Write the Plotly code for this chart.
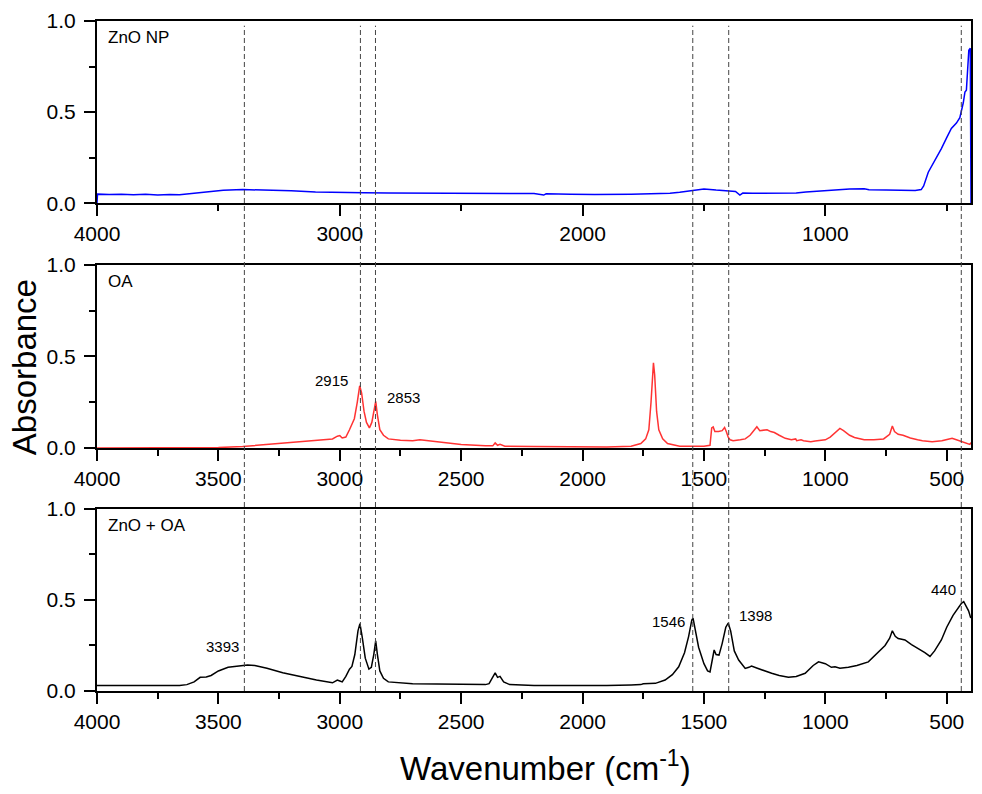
import plotly.graph_objects as go

# ---------------------------------------------------------
# 1. Data
# ---------------------------------------------------------
zno_wn = [4000, 3998, 3950, 3900, 3850, 3800, 3750, 3700, 3660, 3620, 3550, 3480,
          3400, 3300, 3200, 3100, 3000, 2900, 2800, 2600, 2400, 2300, 2200, 2160,
          2150, 2050, 1950, 1800, 1700, 1640, 1600, 1560, 1500, 1450, 1400, 1370,
          1352, 1340, 1300, 1200, 1120, 1080, 1000, 900, 840, 820, 750, 680, 630,
          605, 595, 576, 550, 522, 500, 481, 460, 446, 432, 425, 419, 414, 409,
          403, 400]
zno_abs = [0.0, 0.05, 0.048, 0.05, 0.046, 0.049, 0.045, 0.048, 0.046, 0.052, 0.062, 0.071,
           0.075, 0.073, 0.068, 0.062, 0.058, 0.057, 0.056, 0.056, 0.054, 0.055, 0.053, 0.045,
           0.052, 0.05, 0.048, 0.05, 0.052, 0.055, 0.06, 0.068, 0.078, 0.072, 0.07, 0.065,
           0.045, 0.056, 0.055, 0.055, 0.056, 0.062, 0.07, 0.078, 0.08, 0.074, 0.072, 0.072, 0.07,
           0.075, 0.095, 0.17, 0.23, 0.30, 0.36, 0.41, 0.44, 0.47, 0.55, 0.61, 0.62, 0.72, 0.84,
           0.85, 0.0]

oa_wn = [4000, 3700, 3500, 3400, 3300, 3200, 3100, 3030, 3010, 3000, 2990, 2975,
         2960, 2950, 2940, 2928, 2918, 2910, 2900, 2890, 2878, 2868, 2858, 2852,
         2845, 2835, 2820, 2800, 2750, 2700, 2670, 2600, 2500, 2400, 2370, 2360,
         2350, 2340, 2320, 2200, 2000, 1900, 1800, 1760, 1740, 1727, 1718, 1712,
         1708, 1703, 1695, 1686, 1670, 1650, 1600, 1500, 1475, 1468, 1462, 1455,
         1440, 1425, 1415, 1408, 1400, 1392, 1380, 1350, 1330, 1310, 1290, 1282,
         1270, 1255, 1240, 1225, 1210, 1190, 1165, 1140, 1122, 1118, 1100, 1090,
         1060, 1042, 1000, 980, 960, 940, 925, 900, 880, 840, 800, 760, 735, 724,
         715, 700, 680, 650, 620, 600, 560, 520, 490, 478, 460, 440, 420, 405, 400]
oa_abs = [0.0, 0.0, 0.003, 0.008, 0.02, 0.03, 0.04, 0.05, 0.065, 0.068, 0.055, 0.06,
          0.1, 0.135, 0.16, 0.25, 0.34, 0.30, 0.2, 0.14, 0.11, 0.14, 0.22, 0.255,
          0.18, 0.1, 0.07, 0.05, 0.042, 0.04, 0.045, 0.035, 0.02, 0.012, 0.012, 0.028,
          0.015, 0.02, 0.01, 0.008, 0.005, 0.006, 0.01, 0.025, 0.05, 0.1, 0.25, 0.42,
          0.465, 0.4, 0.2, 0.1, 0.05, 0.025, 0.01, 0.01, 0.015, 0.11, 0.115, 0.09,
          0.09, 0.095, 0.112, 0.09, 0.06, 0.045, 0.04, 0.045, 0.05, 0.07, 0.1, 0.116,
          0.095, 0.097, 0.1, 0.09, 0.085, 0.07, 0.053, 0.045, 0.05, 0.04, 0.045, 0.04,
          0.035, 0.038, 0.045, 0.06, 0.085, 0.107, 0.095, 0.07, 0.058, 0.045, 0.045, 0.05, 0.075, 0.12,
          0.09, 0.075, 0.07, 0.055, 0.045, 0.04, 0.035, 0.04, 0.05, 0.053, 0.045, 0.035, 0.025, 0.02, 0.03]

mix_wn = [4000, 3900, 3800, 3750, 3700, 3660, 3630, 3600, 3575, 3550, 3530, 3500,
          3460, 3420, 3380, 3350, 3300, 3235, 3150, 3096, 3030, 3010, 3000, 2990,
          2975, 2960, 2950, 2938, 2925, 2917, 2908, 2895, 2880, 2870, 2860, 2852,
          2845, 2835, 2820, 2800, 2700, 2500, 2400, 2385, 2370, 2360, 2350, 2340,
          2325, 2300, 2200, 2100, 2000, 1900, 1800, 1760, 1750, 1700, 1660, 1630,
          1604, 1580, 1563, 1550, 1545, 1535, 1522, 1500, 1485, 1475, 1465, 1458,
          1450, 1438, 1425, 1410, 1400, 1390, 1375, 1357, 1345, 1330, 1315, 1304,
          1280, 1250, 1221, 1190, 1152, 1120, 1083, 1050, 1028, 1000, 975, 960,
          940, 905, 870, 823, 800, 770, 754, 735, 724, 712, 700, 690, 672, 645,
          617, 590, 569, 550, 522, 500, 474, 455, 440, 430, 419, 410, 401]
mix_abs = [0.03, 0.03, 0.028, 0.03, 0.027, 0.03, 0.035, 0.05, 0.075, 0.077, 0.085, 0.11,
           0.13, 0.138, 0.142, 0.14, 0.125, 0.10, 0.075, 0.06, 0.045, 0.06, 0.055, 0.05,
           0.08, 0.12, 0.135, 0.2, 0.33, 0.37, 0.3, 0.18, 0.12, 0.13, 0.2, 0.275,
           0.2, 0.11, 0.07, 0.05, 0.04, 0.037, 0.035, 0.04, 0.08, 0.1, 0.075, 0.08,
           0.05, 0.035, 0.03, 0.03, 0.028, 0.03, 0.033, 0.035, 0.04, 0.042, 0.06, 0.09,
           0.133, 0.21, 0.30, 0.39, 0.40, 0.33, 0.24, 0.15, 0.11, 0.105, 0.19, 0.225,
           0.2, 0.197, 0.26, 0.35, 0.373, 0.33, 0.22, 0.17, 0.15, 0.124, 0.13, 0.137,
           0.125, 0.11, 0.097, 0.085, 0.075, 0.08, 0.097, 0.14, 0.16, 0.15, 0.13, 0.133,
           0.125, 0.13, 0.14, 0.16, 0.19, 0.23, 0.25, 0.29, 0.33, 0.3, 0.288, 0.285, 0.28, 0.255,
           0.233, 0.21, 0.19, 0.22, 0.28, 0.35, 0.415, 0.45, 0.48, 0.49, 0.46, 0.44, 0.40]

peaks = [3393, 2915, 2853, 1546, 1398, 440]
panel_names = ["ZnO NP", "OA", "ZnO + OA"]

# ---------------------------------------------------------
# 2. Figure
# ---------------------------------------------------------
FONT = "Arial, Liberation Sans, sans-serif"
fig = go.Figure()

series = [
    (zno_wn, zno_abs, "#0000ff", "x", "y"),
    (oa_wn, oa_abs, "#ff3333", "x2", "y2"),
    (mix_wn, mix_abs, "black", "x3", "y3"),
]
for wn, ab, col, xa, ya in series:
    fig.add_trace(go.Scatter(
        x=wn, y=ab, mode="lines",
        line=dict(color=col, width=1.5),
        xaxis=xa, yaxis=ya, showlegend=False
    ))

# ---------------------------------------------------------
# 3. Axes
# ---------------------------------------------------------
def x_axis(anchor, major, minor):
    return dict(
        anchor=anchor, range=[4000, 400], dtick=major, tick0=0,
        showline=True, linecolor="black", linewidth=2, mirror=True,
        ticks="outside", ticklen=11, tickwidth=2, tickcolor="black",
        minor=dict(dtick=minor, ticks="outside", ticklen=6, tickwidth=2, tickcolor="black"),
        showgrid=False, zeroline=False,
        tickfont=dict(family=FONT, size=21, color="black")
    )

def y_axis(anchor, domain):
    return dict(
        anchor=anchor, domain=domain, range=[0, 1], dtick=0.5, tickformat=".1f",
        showline=True, linecolor="black", linewidth=2, mirror=True,
        ticks="outside", ticklen=11, tickwidth=2, tickcolor="black",
        minor=dict(dtick=0.25, ticks="outside", ticklen=6, tickwidth=2, tickcolor="black"),
        showgrid=False, zeroline=False, ticklabelstandoff=4,
        tickfont=dict(family=FONT, size=21, color="black")
    )

# dashed marker lines through all panels
shapes = []
for p in peaks:
    shapes.append(dict(
        type="line", xref="x3", yref="paper", x0=p, x1=p, y0=0, y1=0.993,
        line=dict(color="#444444", width=1, dash="5px,3px")
    ))

annotations = []
# panel names
for i, name in enumerate(panel_names):
    suffix = "" if i == 0 else str(i + 1)
    annotations.append(dict(
        text=name, xref="x" + suffix + " domain", yref="y" + suffix + " domain",
        x=0.01, y=0.91, xanchor="left", yanchor="middle", showarrow=False,
        font=dict(family=FONT, size=17, color="black")
    ))

# peak labels: (text, axis, y, side, shift)
peak_labels = [
    (2915, "2", 0.353, "right", -10),
    (2853, "2", 0.26, "left", 10),
    (3393, "3", 0.23, "right", -3),
    (1546, "3", 0.366, "right", -6),
    (1398, "3", 0.40, "left", 8),
    (440, "3", 0.538, "right", -3),
]
for wn, ax, yv, side, shift in peak_labels:
    annotations.append(dict(
        text=str(wn), xref="x" + ax, yref="y" + ax, x=wn, y=yv,
        xanchor=side, yanchor="middle", xshift=shift, yshift=3, showarrow=False,
        font=dict(family=FONT, size=15, color="black")
    ))

# axis titles
annotations.append(dict(
    text="Absorbance", xref="paper", yref="paper", x=-0.083, y=0.484,
    textangle=-90, showarrow=False, xanchor="center", yanchor="middle",
    font=dict(family=FONT, size=33, color="black")
))
annotations.append(dict(
    text="Wavenumber (cm<sup>-1</sup>)", xref="paper", yref="paper", x=0.513, y=-0.112,
    showarrow=False, xanchor="center", yanchor="middle",
    font=dict(family=FONT, size=33, color="black")
))

# page body adds an 8px margin on every side, so the figure is sized to fit inside it
fig.update_layout(
    xaxis=x_axis("y", 1000, 500),
    xaxis2=x_axis("y2", 500, 250),
    xaxis3=x_axis("y3", 500, 250),
    yaxis=y_axis("x", [0.728, 1.0]),
    yaxis2=y_axis("x2", [0.3626, 0.636]),
    yaxis3=y_axis("x3", [0.0, 0.272]),
    shapes=shapes,
    annotations=annotations,
    plot_bgcolor="white",
    paper_bgcolor="white",
    font=dict(family=FONT, size=14, color="black"),
    margin=dict(l=89, r=1, t=10, b=95),
    width=966,
    height=778
)

fig.write_html("out.html")
